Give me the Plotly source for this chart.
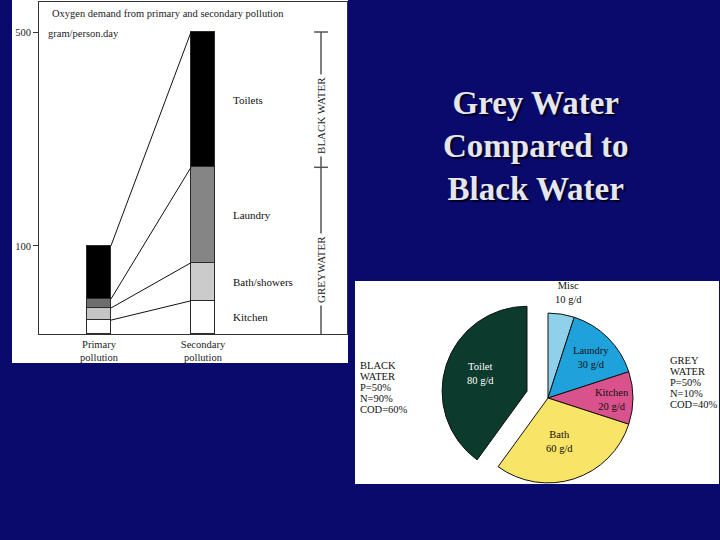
import plotly.graph_objects as go

# ---------------- data ----------------
categories = ["Primary<br>pollution", "Secondary<br>pollution"]
components = ["Kitchen", "Bath/showers", "Laundry", "Toilets"]
kitchen = [23, 55]
bath = [20, 63]
laundry = [15, 158]
toilets = [88, 224]
y_tick_labels = ["100", "500"]

pie_labels = ["Misc", "Laundry", "Kitchen", "Bath", "Toilet"]
pie_values = [10, 30, 20, 60, 80]
pie_units = "g/d"

black_water_stats = ["BLACK", "WATER", "P=50%", "N=90%", "COD=60%"]
grey_water_stats = ["GREY", "WATER", "P=50%", "N=10%", "COD=40%"]

# ---------------- styling ----------------
W, H = 720, 540
BG = "#0a0a6c"
SERIF = "Liberation Serif, Times New Roman, serif"

def px(x):
    return x / W

def py(y):
    return 1 - y / H

series = [kitchen, bath, laundry, toilets]
colors = [
    ["#ffffff", "#ffffff"],
    ["#c4c4c4", "#cbcbcb"],
    ["#6e6e6e", "#858585"],
    ["#000000", "#000000"],
]
bar_w = 0.23
xpos = list(range(len(categories)))

fig = go.Figure()

def note(**kw):
    kw.setdefault("showarrow", False)
    kw.setdefault("xanchor", "center")
    kw.setdefault("yanchor", "middle")
    fig.add_annotation(**kw)

# stacked bars
for name, vals, col in zip(components, series, colors):
    fig.add_trace(go.Bar(
        x=xpos, y=vals, name=name, width=bar_w,
        marker=dict(color=col, line=dict(color="#2a2a2a", width=1)),
        showlegend=False, xaxis="x", yaxis="y",
    ))

# cumulative sums
cum = []
acc = [0, 0]
for vals in series:
    acc = [acc[0] + vals[0], acc[1] + vals[1]]
    cum.append(acc)

# connecting lines between the bars
for c in cum:
    fig.add_trace(go.Scatter(
        x=[xpos[0] + bar_w / 2, xpos[1] - bar_w / 2], y=[c[0], c[1]],
        mode="lines", line=dict(color="#111111", width=1),
        showlegend=False, hoverinfo="skip", xaxis="x", yaxis="y",
    ))

# component labels beside the secondary bar
prev = 0
for name, c in zip(components, cum):
    mid = (prev + c[1]) / 2
    prev = c[1]
    note(x=1.27, y=mid, xref="x", yref="y", text=name, xanchor="left",
         font=dict(family=SERIF, size=11, color="#111"))

totals = [cum[-1][0], cum[-1][1]]
ymax = totals[1] * 332 / 302

# bracket for BLACK WATER / GREYWATER
bx = 2.135
cap = 0.067
fig.add_shape(type="line", xref="x", yref="y", x0=bx, x1=bx, y0=0, y1=totals[1],
              line=dict(color="#555", width=1.5))
fig.add_shape(type="line", xref="x", yref="y", x0=bx - cap, x1=bx + cap,
              y0=totals[1], y1=totals[1], line=dict(color="#555", width=1.5))
fig.add_shape(type="line", xref="x", yref="y", x0=bx - cap, x1=bx + cap,
              y0=cum[2][1], y1=cum[2][1], line=dict(color="#555", width=1.5))
note(x=bx, y=361, xref="x", yref="y", text="BLACK WATER",
     textangle=-90, bgcolor="white", borderpad=2,
     font=dict(family=SERIF, size=11, color="#222"))
note(x=bx, y=106, xref="x", yref="y", text="GREYWATER",
     textangle=-90, bgcolor="white", borderpad=2,
     font=dict(family=SERIF, size=11, color="#222"))

# ---------------- pie ----------------
pie_colors = ["#8fd0ea", "#1fa2dc", "#d9528c", "#f8e467", "#0c3a2c"]
fig.add_trace(go.Pie(
    labels=pie_labels, values=pie_values, sort=False, direction="clockwise",
    rotation=0, pull=[0, 0, 0, 0, 0.26], textinfo="none", hoverinfo="label+value",
    marker=dict(colors=pie_colors, line=dict(color="#111", width=1)),
    domain=dict(x=[px(441), px(655)], y=[py(505), py(291)]),
    showlegend=False,
))

pie_label_pos = [(568, 292), (591, 357), (612, 399), (559, 441), (480, 373)]
pie_label_col = ["#111", "#111", "#111", "#111", "#ffffff"]
for lab, val, (lx, ly), lc in zip(pie_labels, pie_values, pie_label_pos, pie_label_col):
    note(x=px(lx), y=py(ly), xref="paper", yref="paper",
         text=f"{lab}<br>{val} {pie_units}",
         font=dict(family=SERIF, size=10.5, color=lc))

# stats blocks, one line each
for i, line in enumerate(black_water_stats):
    note(x=px(358), y=py(365 + 11 * i), xref="paper", yref="paper",
         text=line, xanchor="left",
         font=dict(family=SERIF, size=10.5, color="#111"))
for i, line in enumerate(grey_water_stats):
    note(x=px(668), y=py(360 + 11 * i), xref="paper", yref="paper",
         text=line, xanchor="left",
         font=dict(family=SERIF, size=10.5, color="#111"))

# ---------------- panels & titles ----------------
fig.add_shape(type="rect", xref="paper", yref="paper", x0=px(12), x1=px(348),
              y0=py(363), y1=py(0), fillcolor="white", line=dict(width=0), layer="below")
fig.add_shape(type="rect", xref="paper", yref="paper", x0=px(355), x1=px(719),
              y0=py(484), y1=py(281), fillcolor="white", line=dict(width=0), layer="below")

note(x=px(50), y=py(14), xref="paper", yref="paper",
     text="Oxygen demand from primary and secondary pollution", xanchor="left",
     font=dict(family=SERIF, size=10.5, color="#222"))
note(x=px(46), y=py(33), xref="paper", yref="paper",
     text="gram/person.day", xanchor="left",
     font=dict(family=SERIF, size=10.5, color="#222"))

note(x=px(535), y=py(146), xref="paper", yref="paper",
     text="Grey Water<br>Compared to<br>Black Water", align="center",
     font=dict(family=SERIF, size=33, color="#e6e6ee", weight="bold",
               shadow="2px 2px 1px #000022"))

fig.update_layout(
    width=W, height=H, autosize=False,
    margin=dict(l=0, r=0, t=0, b=0),
    paper_bgcolor=BG, plot_bgcolor="white",
    barmode="stack", bargap=0,
    xaxis=dict(domain=[px(39), px(347)], range=[-0.577, 2.385],
               tickvals=xpos, ticktext=categories, ticks="",
               showgrid=False, zeroline=False, showline=True, mirror=True,
               linecolor="#333", linewidth=1,
               tickfont=dict(family=SERIF, size=10.5, color="#222")),
    yaxis=dict(domain=[py(334), py(2)], range=[0, ymax],
               tickvals=totals, ticktext=y_tick_labels, ticks="outside",
               ticklen=5, tickcolor="#333",
               showgrid=False, zeroline=False, showline=True, mirror=True,
               linecolor="#333", linewidth=1,
               tickfont=dict(family=SERIF, size=10.5, color="#222")),
)

fig.write_html("out.html", config={"displayModeBar": False},
               post_script="document.body.style.margin='0';document.body.style.overflow='hidden';")
